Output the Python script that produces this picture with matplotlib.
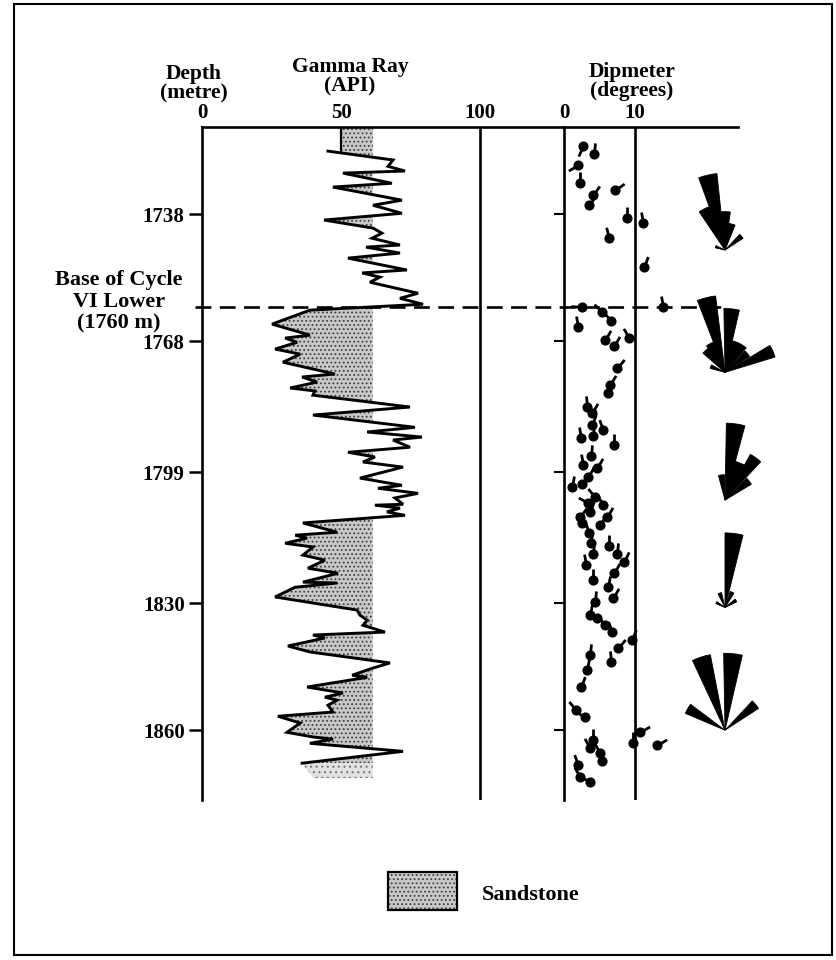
import numpy as np
import matplotlib.pyplot as plt
from matplotlib.path import Path
from matplotlib.patches import Rectangle
from matplotlib.lines import Line2D
import matplotlib.transforms as mtransforms

plt.rcParams['font.family'] = ['Liberation Serif', 'DejaVu Serif']
plt.rcParams['font.weight'] = 'bold'
plt.rcParams['hatch.linewidth'] = 0.8
plt.rcParams['hatch.color'] = '#444444'

W, H = 837, 960

# gamma ray log (API) against depth (m)
gr_depth = [1723.1, 1725.2, 1726.7, 1727.8, 1728.3, 1730.7, 1731.6, 1734.7, 1735.9, 1737.8,
            1739.4, 1741.3, 1742.5, 1743.7, 1745.3, 1745.8, 1747.2, 1748.4, 1751.2, 1751.9,
            1752.9, 1754.1, 1756.7, 1757.9, 1759.3,
            1760.7, 1764.0, 1766.6, 1767.3, 1768.3, 1769.9, 1771.1, 1773.0, 1775.8, 1776.5,
            1777.7, 1779.1, 1779.8, 1780.8, 1783.6, 1785.5, 1788.4, 1789.5, 1790.7, 1791.4,
            1793.1, 1794.3, 1795.4, 1796.6, 1797.8, 1800.4, 1802.1, 1802.8, 1804.0, 1805.1,
            1806.6, 1806.8, 1807.5, 1808.4, 1809.2,
            1811.0, 1813.2, 1813.9, 1814.6, 1815.8, 1816.7, 1818.6, 1819.8, 1821.7, 1822.9,
            1825.0, 1825.2, 1826.2, 1828.5, 1831.6, 1832.8, 1834.0, 1835.2, 1836.8, 1837.5,
            1838.2, 1840.1, 1841.5, 1844.1, 1845.3, 1847.0, 1847.5, 1849.8, 1851.2, 1852.2,
            1852.9, 1854.1, 1855.7, 1856.7, 1858.3, 1860.5, 1861.6, 1862.1, 1863.1, 1865.0,
            1867.8]
gr_api = [45.3, 68.7, 66.9, 73.0, 50.7, 68.3, 47.1, 71.9, 61.5, 71.9,
          43.9, 61.5, 64.7, 61.2, 71.2, 59.0, 71.2, 52.5, 73.7, 57.6,
          64.0, 60.4, 77.7, 71.2, 79.5,
          38.8, 25.2, 38.8, 29.9, 34.2, 26.3, 35.3, 29.1, 47.8, 36.0,
          41.4, 31.7, 40.6, 39.9, 74.8, 39.9, 76.6, 59.4, 79.1, 68.7,
          74.8, 52.5, 62.2, 57.9, 72.3, 56.8, 71.9, 63.3, 77.7, 69.4,
          72.3, 62.2, 71.2, 66.5, 73.0,
          36.3, 48.6, 33.5, 37.8, 29.9, 39.9, 36.3, 44.2, 38.1, 48.9,
          36.3, 48.6, 33.5, 26.3, 55.8, 56.8, 59.4, 57.9, 65.8, 39.9,
          44.2, 30.9, 38.8, 67.6, 61.5, 54.0, 59.4, 37.8, 50.7, 44.2,
          48.6, 45.3, 47.1, 27.3, 35.3, 30.6, 39.9, 47.1, 38.8, 72.3,
          36.0]
tail_depth = [1867.8, 1871.3]   # faded sandstone below the end of the curve
tail_api = [36.0, 40.0]
sand_cutoff = 61.4

depth_top, depth_bot = 1717.4, 1876.5
depth_ticks = [1738, 1768, 1799, 1830, 1860]
gr_ticks = [0, 50, 100]
dip_ticks = [0, 10]
base_depth = 1760

# dipmeter tadpoles: depth (m), dip (deg), azimuth of tail (deg from north)
tad_depth = [1721.9, 1723.8, 1726.4, 1730.7, 1735.9, 1733.5, 1732.3, 1738.9, 1740.1, 1743.7,
             1750.5, 1760.0, 1761.2, 1763.3, 1760.0, 1764.7, 1767.8, 1769.2, 1767.3, 1774.4,
             1778.4, 1780.3, 1783.6, 1785.0, 1787.9, 1789.1, 1791.0, 1790.5, 1792.6, 1795.2,
             1797.3, 1798.0, 1800.2, 1802.5, 1801.8, 1804.9, 1806.3, 1806.8, 1809.6, 1808.4,
             1811.5, 1809.6, 1811.0, 1813.4, 1815.8, 1816.5, 1818.4, 1818.4, 1821.0, 1820.3,
             1822.9, 1824.5, 1826.2, 1828.8, 1829.7, 1832.8, 1833.5, 1835.2, 1836.8, 1838.7,
             1840.6, 1843.9, 1842.3, 1845.8, 1849.8, 1855.3, 1856.9, 1860.5, 1863.1, 1863.5,
             1862.3, 1864.2, 1865.4, 1867.3, 1868.3, 1871.1, 1872.3]
tad_dip = [2.7, 4.2, 2.0, 2.3, 3.5, 4.1, 7.2, 8.9, 11.1, 6.3,
           11.3, 2.5, 5.4, 6.6, 13.9, 2.0, 5.8, 7.0, 9.2, 7.5,
           6.5, 6.2, 3.2, 3.9, 3.9, 5.5, 2.4, 4.1, 7.0, 3.8,
           2.7, 4.6, 3.4, 1.1, 2.5, 4.4, 3.4, 5.5, 2.3, 3.7,
           5.1, 6.1, 2.5, 3.5, 3.8, 6.3, 4.1, 7.5, 3.1, 8.5,
           7.0, 4.1, 6.2, 6.9, 4.4, 3.7, 4.6, 5.8, 6.8, 9.6,
           7.6, 6.6, 3.7, 3.2, 2.4, 1.7, 3.0, 10.7, 9.7, 13.1,
           4.1, 3.7, 5.1, 5.4, 2.0, 2.3, 3.7]
tad_az = [205, 5, 240, 0, 35, 35, 55, 0, 350, 345,
          20, 275, 315, 320, 350, 350, 30, 30, 330, 40,
          30, 30, 355, 30, 20, 340, 350, 5, 0, 5,
          350, 30, 30, 10, 40, 320, 300, 330, 35, 20,
          30, 30, 330, 340, 5, 0, 5, 5, 350, 25,
          30, 0, 10, 30, 5, 10, 300, 320, 340, 20,
          40, 355, 5, 10, 20, 320, 300, 60, 0, 60,
          0, 330, 330, 340, 340, 330, 300]

# rose diagrams of dip azimuth, one per interval (petal length in % of longest)
rose_depth = [1746.5, 1775.4, 1805.6, 1831.0, 1860.0]
rose_az = [[347, 333, 1, 15, 50, 290],
           [346, 6, 318, 332, 20, 34, 50, 66, 292],
           [8, 22, 36, 52, 352],
           [7, 340, 25, 300, 57],
           [342, 6, 300, 50]]
rose_len = [[100, 60, 50, 35, 28, 13],
            [100, 83, 38, 42, 42, 42, 38, 68, 20],
            [100, 52, 68, 40, 33],
            [97, 20, 22, 13, 17],
            [100, 100, 56, 52]]
rose_width = 14

fig = plt.figure(figsize=(W / 100, H / 100), dpi=100)


def px_box(x0, y0, x1, y1):
    return [x0 / W, 1 - y1 / H, (x1 - x0) / W, (y1 - y0) / H]


ax_g = fig.add_axes(px_box(202, 127, 564, 800))
ax_d = fig.add_axes(px_box(564, 127, 738, 800))

lw_ax = 1.9
for ax, xmax in [(ax_g, 130.2), (ax_d, 24.5)]:
    ax.set_xlim(0, xmax)
    ax.set_ylim(depth_bot, depth_top)
    ax.spines['right'].set_visible(False)
    ax.spines['bottom'].set_visible(False)
    ax.spines['left'].set_linewidth(lw_ax)
    ax.spines['top'].set_linewidth(lw_ax)
    ax.patch.set_alpha(0)
    ax.xaxis.tick_top()
    ax.set_yticks(depth_ticks)

ax_g.set_xticks(gr_ticks)
ax_g.tick_params(axis='x', length=0, pad=3, labelsize=15)
ax_g.tick_params(axis='y', direction='out', length=9.5, width=1.8, pad=3, labelsize=15)
ax_d.set_xticks(dip_ticks)
ax_d.tick_params(axis='x', length=0, pad=3, labelsize=15)
ax_d.tick_params(axis='y', direction='out', length=7, width=1.5, labelleft=False)

# gamma ray track
ax_g.axvline(100, color='k', lw=lw_ax)
ax_g.plot([50, 50], [depth_top, gr_depth[0]], color='k', lw=1.6)
gr_depth_a = np.array(gr_depth)
gr_api_a = np.array(gr_api)
fill_kw = dict(facecolor='#c8c8c8', edgecolor='#404040', hatch='....', linewidth=0)
ax_g.fill_betweenx([depth_top, gr_depth[0]], 50, sand_cutoff, **fill_kw)
ax_g.fill_betweenx(gr_depth_a, gr_api_a, sand_cutoff, where=gr_api_a < sand_cutoff,
                   interpolate=True, **fill_kw)
ax_g.fill_betweenx(tail_depth, tail_api, sand_cutoff, facecolor='#e2e2e2',
                   edgecolor='#777777', hatch='...', linewidth=0)
ax_g.plot(gr_api, gr_depth, color='k', lw=2.1, solid_joinstyle='miter')

# dipmeter track
ax_d.axvline(10, color='k', lw=lw_ax)
for dep, dip, az in zip(tad_depth, tad_dip, tad_az):
    a = np.radians(az)
    # extra move-to points keep every tail the same length after marker scaling
    tail = Path([(0, 0), (np.sin(a), np.cos(a)), (1, 1), (-1, -1)],
                [Path.MOVETO, Path.LINETO, Path.MOVETO, Path.MOVETO])
    ax_d.plot(dip, dep, marker=tail, markersize=16, mew=2.0, mec='k', mfc='none',
              clip_on=False)
ax_d.plot(tad_dip, tad_depth, 'o', color='k', markersize=6.3, clip_on=False)

# base of cycle line
trans = mtransforms.blended_transform_factory(fig.transFigure, ax_g.transData)
fig.add_artist(Line2D([195 / W, 725 / W], [base_depth, base_depth], transform=trans,
                      color='k', lw=1.9, ls=(0, (6, 3.2))))

# rose diagrams
R = 80
for dep, az, ln in zip(rose_depth, rose_az, rose_len):
    cy = ax_d.transData.transform((0, dep))[1]
    ax_r = fig.add_axes([(725 - R) / W, (cy - R) / H, 2 * R / W, 2 * R / H],
                        projection='polar')
    ax_r.set_theta_zero_location('N')
    ax_r.set_theta_direction(-1)
    ax_r.bar(np.radians(az), ln, width=np.radians(rose_width), bottom=0, color='k',
             edgecolor='k', linewidth=0.6)
    ax_r.set_ylim(0, 104)
    ax_r.axis('off')

# headers (two-line blocks)
fs = 15.5
hdr = dict(ha='center', va='top', fontsize=fs, linespacing=0.95)
fig.text(194 / W, 1 - 64 / H, 'Depth\n(metre)', **hdr)
fig.text(350 / W, 1 - 57 / H, 'Gamma Ray\n(API)', **hdr)
fig.text(632 / W, 1 - 62 / H, 'Dipmeter\n(degrees)', **hdr)

fig.text(119 / W, 1 - 270 / H, 'Base of Cycle\nVI Lower\n(1760 m)', ha='center',
         va='top', fontsize=16, linespacing=1.12)

# legend
x0, y0, x1, y1 = 388, 872, 457, 910
fig.add_artist(Rectangle((x0 / W, 1 - y1 / H), (x1 - x0) / W, (y1 - y0) / H,
                         transform=fig.transFigure, **fill_kw))
fig.add_artist(Rectangle((x0 / W, 1 - y1 / H), (x1 - x0) / W, (y1 - y0) / H,
                         transform=fig.transFigure, fill=False, lw=1.6, ec='k'))
fig.text(482 / W, 1 - 900 / H, 'Sandstone', va='baseline', fontsize=16)

# outer frame
fig.add_artist(Rectangle((14 / W, 1 - 955 / H), (832 - 14) / W, (955 - 4) / H,
                         transform=fig.transFigure, fill=False, lw=1.5, ec='k'))

fig.savefig('out.png', dpi=100)
